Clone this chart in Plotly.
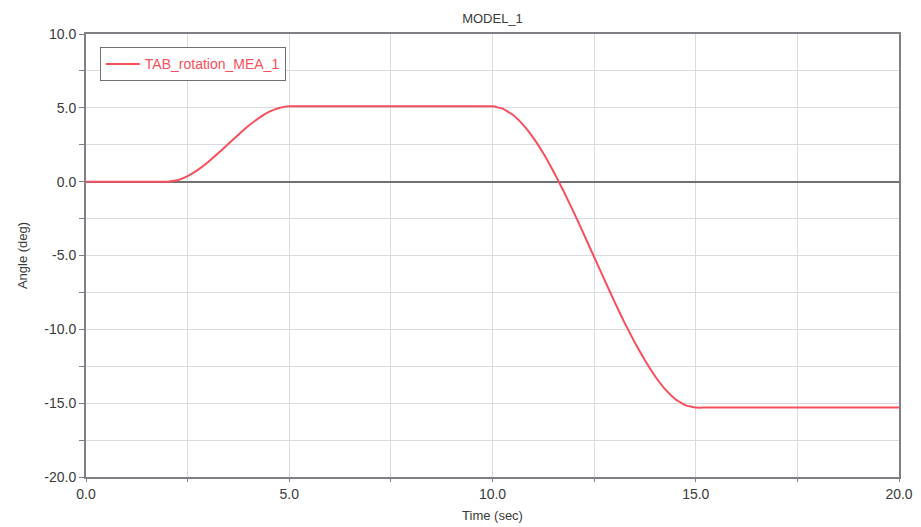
import plotly.graph_objects as go

# Data
time_s = [0.0, 1.0, 1.75, 2.0, 2.25, 2.5, 2.75, 3.0, 3.25, 3.5, 3.75, 4.0, 4.25, 4.5, 4.75, 5.0,
          5.25, 5.5, 6.0, 7.0, 8.0, 9.0, 9.5, 9.75, 10.0, 10.25, 10.5, 10.75, 11.0, 11.25, 11.5,
          11.75, 12.0, 12.25, 12.5, 12.75, 13.0, 13.25, 13.5, 13.75, 14.0, 14.25, 14.5, 14.75,
          15.0, 15.25, 15.5, 16.0, 17.0, 18.0, 19.0, 20.0]
angle_deg = [0.0, 0.0, 0.0, 0.0, 0.10, 0.38, 0.80, 1.32, 1.92, 2.55, 3.18, 3.78, 4.30, 4.72, 4.99, 5.10,
             5.10, 5.10, 5.10, 5.10, 5.10, 5.10, 5.10, 5.10, 5.10, 4.95, 4.53, 3.86, 2.98, 1.93, 0.69,
             -0.65, -2.08, -3.58, -5.10, -6.62, -8.12, -9.56, -10.89, -12.10, -13.18, -14.07, -14.73, -15.15,
             -15.30, -15.30, -15.30, -15.30, -15.30, -15.30, -15.30, -15.30]

x_tickvals = [0, 2.5, 5, 7.5, 10, 12.5, 15, 17.5, 20]
x_ticktext = ["0.0", "", "5.0", "", "10.0", "", "15.0", "", "20.0"]
y_tickvals = [10, 7.5, 5, 2.5, 0, -2.5, -5, -7.5, -10, -12.5, -15, -17.5, -20]
y_ticktext = ["10.0", "", "5.0", "", "0.0", "", "-5.0", "", "-10.0", "", "-15.0", "", "-20.0"]

line_color = "#f5505c"
font_fam = "Liberation Sans, Arial, sans-serif"
text_color = "#3a3a3a"

fig = go.Figure()
fig.add_trace(go.Scatter(
    x=time_s, y=angle_deg, mode="lines", name="TAB_rotation_MEA_1",
    line=dict(color=line_color, width=2, shape="spline", smoothing=0.3),
))

axis_common = dict(
    showgrid=True, gridcolor="#d9d9de", gridwidth=1,
    showline=True, linecolor="#7f7f85", linewidth=2, mirror=True,
    ticks="outside", tickcolor="#7f7f85", tickwidth=1,
    tickfont=dict(family=font_fam, size=14, color=text_color),
    automargin=False,
)

fig.update_xaxes(
    range=[0, 20], tickmode="array", tickvals=x_tickvals, ticktext=x_ticktext,
    ticklen=3, zeroline=False,
    title=dict(text="Time (sec)", font=dict(family=font_fam, size=13, color=text_color), standoff=10),
    **axis_common,
)
fig.update_yaxes(
    range=[-20, 10], tickmode="array", tickvals=y_tickvals, ticktext=y_ticktext,
    ticklen=5, zeroline=True, zerolinecolor="#707075", zerolinewidth=1.5,
    title=dict(text="Angle (deg)", font=dict(family=font_fam, size=13, color=text_color), standoff=14),
    **axis_common,
)

fig.update_layout(
    width=921, height=527,
    margin=dict(l=86, r=22, t=34, b=50),
    paper_bgcolor="white", plot_bgcolor="white",
    title=dict(text="MODEL_1", x=(86 + 899) / 2 / 921, xanchor="center", y=0.965, yanchor="middle",
               font=dict(family=font_fam, size=13, color=text_color)),
    showlegend=True,
    legend=dict(
        x=0.017, y=0.97, xanchor="left", yanchor="top",
        bgcolor="white", bordercolor="#6f6f75", borderwidth=1,
        font=dict(family=font_fam, size=14, color=line_color),
        itemwidth=34,
    ),
)

fig.write_html("out.html")
